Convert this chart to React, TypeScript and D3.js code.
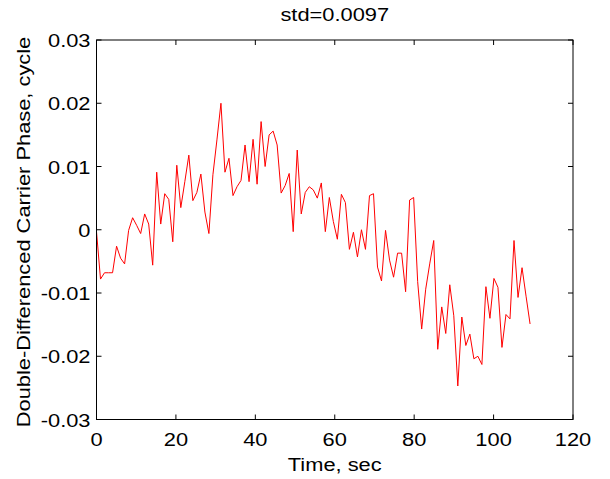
import React from "react";
import * as d3 from "d3";

const DT = 1.011; // sample interval, seconds
const phase: number[] = [
  -0.0003, -0.0078, -0.0068, -0.0068, -0.0068, -0.0026, -0.0045, -0.0054, -0.0001, 0.0019,
  0.0007, -0.0006, 0.0025, 0.0009, -0.0056, 0.0091, 0.0009, 0.0057, 0.0048, -0.0019,
  0.0102, 0.0035, 0.0076, 0.0118, 0.0046, 0.0059, 0.0088, 0.0028, -0.0006, 0.0087,
  0.0142, 0.0200, 0.0091, 0.0113, 0.0054, 0.0068, 0.0078, 0.0134, 0.0076, 0.0143,
  0.0072, 0.0171, 0.0100, 0.0150, 0.0156, 0.0134, 0.0058, 0.0070, 0.0089, -0.0003,
  0.0126, 0.0025, 0.0059, 0.0068, 0.0063, 0.0050, 0.0074, -0.0003, 0.0051, 0.0013,
  -0.0015, 0.0056, 0.0043, -0.0031, -0.0004, -0.0043, 0.0000, -0.0031, 0.0054, 0.0057,
  -0.0059, -0.0081, -0.0001, -0.0048, -0.0075, -0.0037, -0.0037, -0.0098, 0.0047, 0.0051,
  -0.0082, -0.0157, -0.0094, -0.0054, -0.0017, -0.0189, -0.0122, -0.0164, -0.0087, -0.0136,
  -0.0247, -0.0138, -0.0183, -0.0165, -0.0204, -0.0200, -0.0213, -0.0090, -0.0140, -0.0077,
  -0.0091, -0.0186, -0.0134, -0.0141, -0.0017, -0.0107, -0.0060, -0.0105, -0.0149,
];
const xTicks: number[] = [0, 20, 40, 60, 80, 100, 120];
const yTicks: number[] = [-0.03, -0.02, -0.01, 0, 0.01, 0.02, 0.03];
const yTickLabels: string[] = ["-0.03", "-0.02", "-0.01", "0", "0.01", "0.02", "0.03"];
const title = "std=0.0097";
const xLabel = "Time, sec";
const yLabel = "Double-Differenced Carrier Phase, cycle";

const W = 610, H = 479;
const left = 96.5, right = 573, top = 40, bottom = 419.5;
const FONT = "'Liberation Sans', Arial, Helvetica, sans-serif";
const FS = 19;
const SX = 1.15;

function T(props: { x: number; y: number; anchor: string; rot?: number; children: React.ReactNode }) {
  const { x, y, anchor, rot = 0, children } = props;
  return (
    <text
      transform={`translate(${x},${y}) rotate(${rot}) scale(${SX},1)`}
      textAnchor={anchor}
      fontFamily={FONT}
      fontSize={FS}
      fill="#000"
    >
      {children}
    </text>
  );
}

export default function App() {
  const x = d3.scaleLinear().domain([0, 120]).range([left, right]);
  const y = d3.scaleLinear().domain([-0.03, 0.03]).range([bottom, top]);
  const data = phase.map((v, i) => [i * DT, v] as [number, number]);
  const line = d3.line<[number, number]>().x((d) => x(d[0])).y((d) => y(d[1]));
  const tl = 5;
  return (
    <svg width={W} height={H} style={{ position: "absolute", left: 0, top: 0, background: "#fff" }}>
      <rect x={0} y={0} width={W} height={H} fill="#fff" />
      <path d={line(data) || ""} fill="none" stroke="#ff0000" strokeWidth={1} />
      <rect x={left} y={top} width={right - left} height={bottom - top} fill="none" stroke="#000" strokeWidth={1} />
      {xTicks.map((t) => (
        <g key={"x" + t}>
          <line x1={x(t)} x2={x(t)} y1={bottom} y2={bottom - tl} stroke="#000" />
          <line x1={x(t)} x2={x(t)} y1={top} y2={top + tl} stroke="#000" />
          <T x={x(t)} y={bottom + 26} anchor="middle">{t}</T>
        </g>
      ))}
      {yTicks.map((t, i) => (
        <g key={"y" + t}>
          <line x1={left} x2={left + tl} y1={y(t)} y2={y(t)} stroke="#000" />
          <line x1={right} x2={right - tl} y1={y(t)} y2={y(t)} stroke="#000" />
          <T x={left - 6} y={y(t) + 7} anchor="end">{yTickLabels[i]}</T>
        </g>
      ))}
      <T x={(left + right) / 2} y={21} anchor="middle">{title}</T>
      <T x={(left + right) / 2} y={471} anchor="middle">{xLabel}</T>
      <T x={30} y={232} anchor="middle" rot={-90}>{yLabel}</T>
    </svg>
  );
}
